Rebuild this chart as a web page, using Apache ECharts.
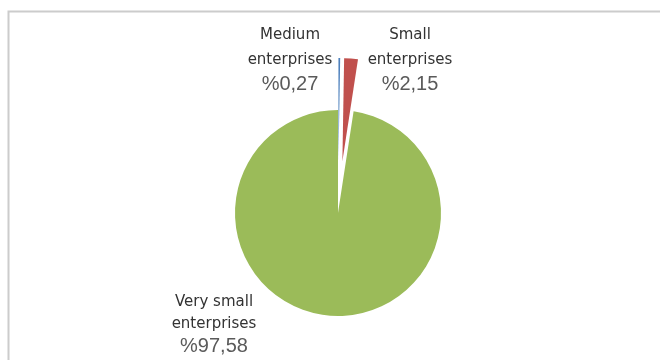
<!DOCTYPE html>
<html>
<head>
<meta charset="utf-8">
<script src="https://cdn.jsdelivr.net/npm/echarts@6/dist/echarts.min.js"></script>
<style>
  html, body { margin: 0; padding: 0; background: #ffffff; }
  #chart { width: 660px; height: 360px; }
</style>
</head>
<body>
<div id="chart"></div>
<script>
// Enterprise size shares (percent)
const categories = ['Medium enterprises', 'Small enterprises', 'Very small enterprises'];
const nameLines = [['Medium', 'enterprises'], ['Small', 'enterprises'], ['Very small', 'enterprises']];
const shares = [0.27, 2.15, 97.58];
const pulledOut = [true, true, false];

// Styling and label placement
const sliceColors = ['#4f81bd', '#c0504d', '#9bbb59'];
const labelAnchors = [[290, 23], [410, 23], [214, 291]];
const labelSpacing = ['wide', 'wide', 'tight'];

function formatShare(v) {
  return '%' + v.toFixed(2).replace('.', ',');
}

const chart = echarts.init(document.getElementById('chart'), null, { renderer: 'canvas' });

const pieBase = {
  type: 'pie',
  center: [338, 213],
  radius: 103,
  startAngle: 90,
  clockwise: true,
  avoidLabelOverlap: false,
  minShowLabelAngle: 0,
  emphasis: { disabled: true },
  labelLine: { show: false },
  silent: true
};

const nameStyle = { fontFamily: 'DejaVu Sans', fontSize: 15, color: '#333333' };
const valueStyle = { fontFamily: 'Liberation Sans', fontSize: 20, color: '#5a5a5a' };

chart.setOption({
  backgroundColor: '#ffffff',
  animation: false,
  graphic: [{
    type: 'rect',
    shape: { x: 8.5, y: 11.5, width: 700, height: 400 },
    style: { fill: '#ffffff', stroke: '#cccccc', lineWidth: 2 },
    z: -10,
    silent: true
  }],
  series: [
    // Slices, with the two smallest pulled out of the pie
    Object.assign({}, pieBase, {
      selectedMode: 'multiple',
      selectedOffset: 52,
      label: { show: false },
      data: categories.map(function (name, i) {
        return {
          name: name,
          value: shares[i],
          selected: pulledOut[i],
          itemStyle: { color: sliceColors[i] }
        };
      })
    }),
    // Category labels with shares
    Object.assign({}, pieBase, {
      z: 3,
      label: {
        show: true,
        position: 'outside',
        align: 'center',
        formatter: function (p) {
          const lines = nameLines[p.dataIndex];
          const s = labelSpacing[p.dataIndex];
          return '{n_' + s + '|' + lines[0] + '}\n{n_' + s + '|' + lines[1] + '}\n{v_' + s + '|' + formatShare(p.value) + '}';
        },
        rich: {
          n_wide: Object.assign({ lineHeight: 25 }, nameStyle),
          v_wide: Object.assign({ lineHeight: 22 }, valueStyle),
          n_tight: Object.assign({ lineHeight: 22 }, nameStyle),
          v_tight: Object.assign({ lineHeight: 22 }, valueStyle)
        }
      },
      labelLayout: function (params) {
        const a = labelAnchors[params.dataIndex];
        return { x: a[0], y: a[1], align: 'center', verticalAlign: 'top', hideOverlap: false };
      },
      data: categories.map(function (name, i) {
        return {
          name: name,
          value: shares[i],
          itemStyle: { color: 'rgba(0,0,0,0)' }
        };
      })
    })
  ]
});
</script>
</body>
</html>
